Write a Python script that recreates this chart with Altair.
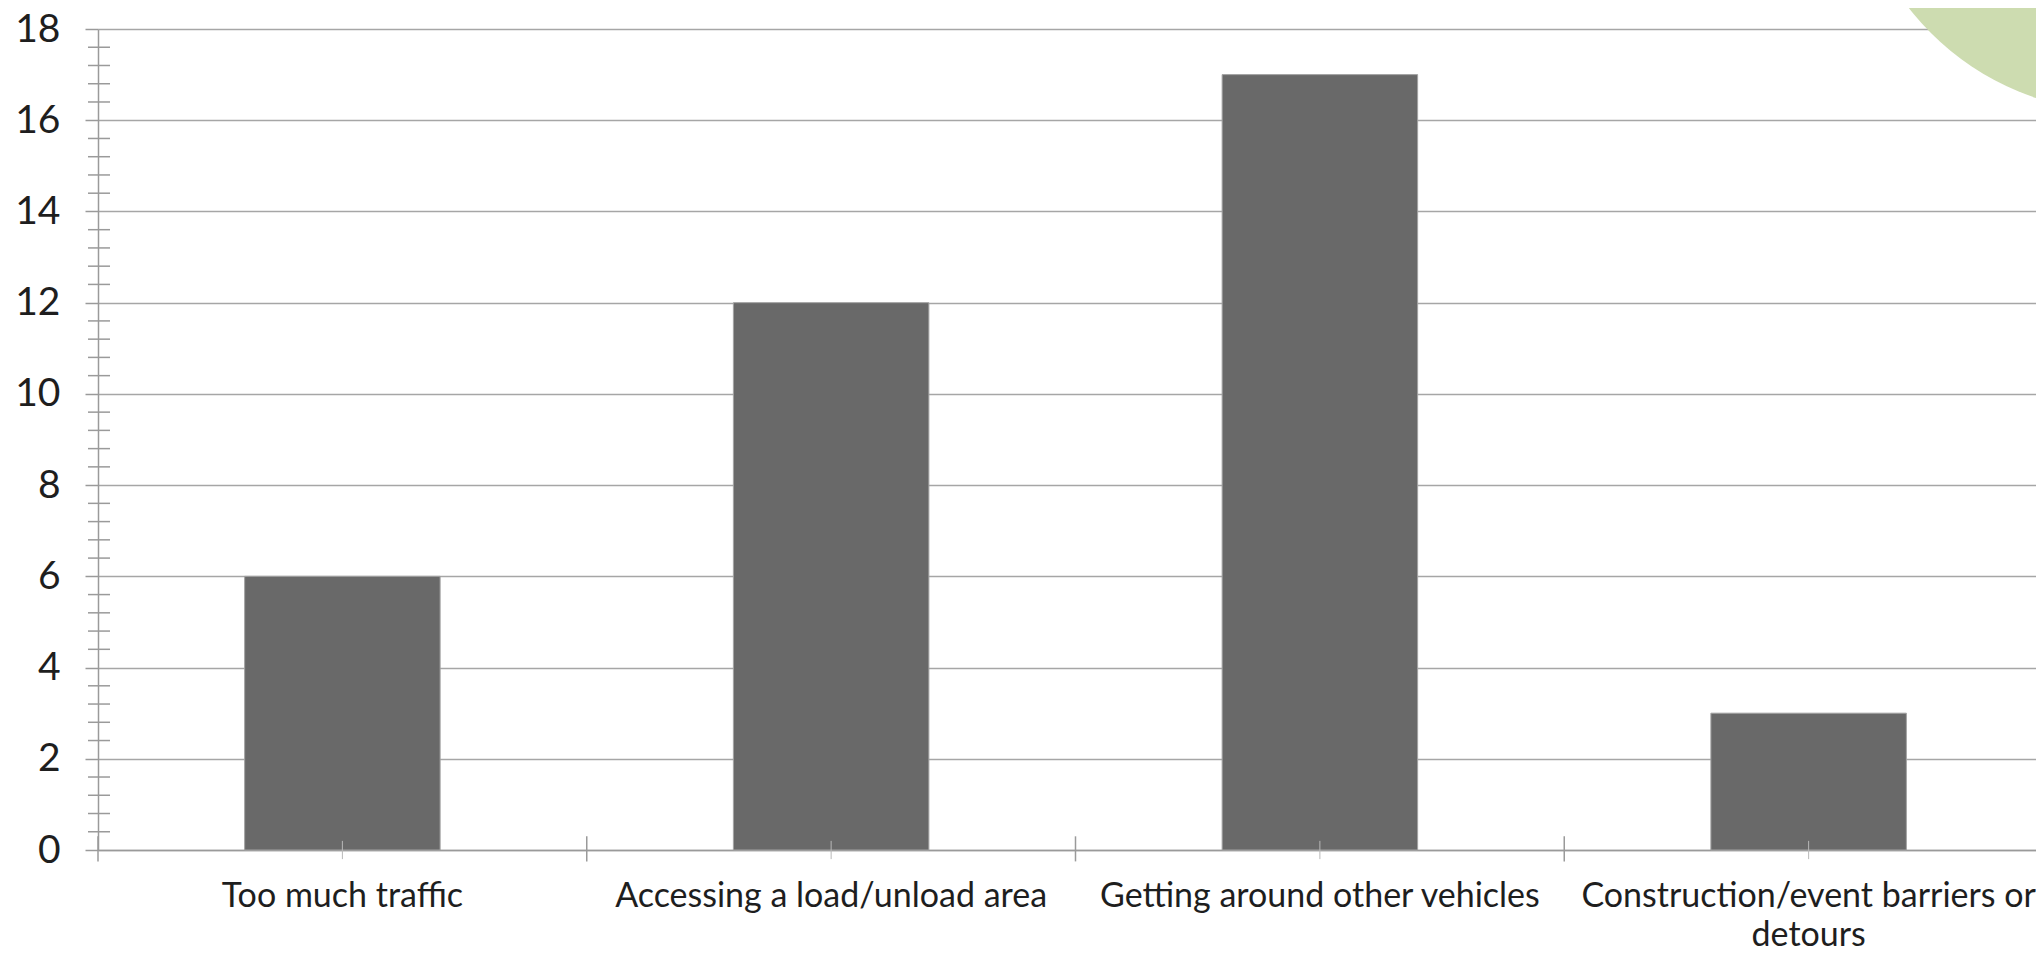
import altair as alt
import pandas as pd

categories = [
    "Too much traffic",
    "Accessing a load/unload area",
    "Getting around other vehicles",
    "Construction/event barriers or detours",
]
values = [6, 12, 17, 3]
y_ticks = [0, 2, 4, 6, 8, 10, 12, 14, 16, 18]
minor_ticks = [round(i * 0.4, 1) for i in range(46) if i % 5]
boundaries = [0, 1, 2, 3, 4]
centers = [0.5, 1.5, 2.5, 3.5]

FONT = "Lato"
GRID = "#a6a6a6"
AXIS = "#9a9a9a"

df = pd.DataFrame({"cat": categories, "val": values})
minor_df = pd.DataFrame({"m": minor_ticks})
bound_df = pd.DataFrame({"b": boundaries})
center_df = pd.DataFrame({"c": centers})

yscale = alt.Scale(domain=[0, 18], nice=False, zero=True)
yaxis = alt.Axis(
    values=y_ticks,
    tickSize=13,
    tickColor=AXIS,
    tickWidth=1.5,
    labelPadding=25,
    labelFont=FONT,
    labelFontSize=39,
    labelColor="#1e1e1e",
    domainColor=AXIS,
    domainWidth=1.5,
    grid=True,
    gridColor=GRID,
    gridWidth=1.5,
)

label_expr = (
    "datum.label == 'Construction/event barriers or detours' "
    "? ['Construction/event barriers or', 'detours'] : datum.label"
)

bars = alt.Chart(df).mark_bar(
    color="#696969", stroke="#a3a3a3", strokeWidth=1
).encode(
    x=alt.X(
        "cat:N",
        sort=categories,
        title=None,
        scale=alt.Scale(paddingInner=0.6, paddingOuter=0.3),
        axis=alt.Axis(
            labelAngle=0,
            ticks=False,
            tickSize=0,
            labelPadding=56,
            labelBaseline="alphabetic",
            labelFont=FONT,
            labelFontSize=34,
            labelColor="#1e1e1e",
            labelLineHeight=39,
            labelLimit=0,
            labelExpr=label_expr,
            domainColor=AXIS,
            domainWidth=1.5,
            grid=False,
        ),
    ),
    y=alt.Y("val:Q", title=None, scale=yscale, axis=yaxis),
)

minor = alt.Chart(minor_df).mark_rule(color=AXIS, strokeWidth=1.5).encode(
    y=alt.Y("m:Q", title=None, scale=yscale, axis=yaxis),
    x=alt.value(-10),
    x2=alt.value(12),
)

qx = alt.Scale(domain=[0, 4], nice=False, zero=False)

bticks = alt.Chart(bound_df).mark_rule(color=AXIS, strokeWidth=1.5, clip=False).encode(
    x=alt.X("b:Q", scale=qx, axis=None),
    y=alt.datum(-0.25),
    y2=alt.datum(0.3),
)

cticks = alt.Chart(center_df).mark_rule(color="#b8b8b8", strokeWidth=1, clip=False).encode(
    x=alt.X("c:Q", scale=qx, axis=None),
    y=alt.datum(-0.2),
    y2=alt.datum(0.2),
)

circle = alt.Chart(pd.DataFrame({"k": [0]})).mark_point(
    shape="circle", filled=True, color="#cddcb0", opacity=1, size=289000, clip=False
).encode(
    x=alt.value(2023),
    y=alt.value(-186),
)

chart = (
    alt.layer(bars, minor, bticks, cticks, circle)
    .resolve_scale(x="independent")
    .properties(
        width=1955,
        height=821,
        padding={"left": 90, "top": 21, "right": -17, "bottom": 102},
        autosize=alt.AutoSizeParams(type="none"),
        background="white",
    )
    .configure_view(stroke=None)
)

chart.save("out.html", embed_options={"renderer": "svg", "actions": False})
